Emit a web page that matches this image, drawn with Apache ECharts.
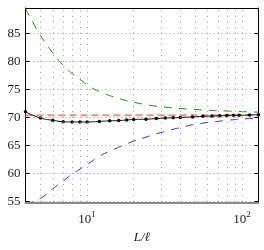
<!DOCTYPE html>
<html>
<head>
<meta charset="utf-8">
<script src="https://cdn.jsdelivr.net/npm/echarts@6/dist/echarts.min.js"></script>
<style>html,body{margin:0;padding:0;background:#fff}#c{width:264px;height:250px}</style>
</head>
<body>
<div id="c"></div>
<script>
const xs     = [4, 5, 6, 7, 8, 9, 10, 12, 14, 16, 18, 20, 24, 28, 32, 36, 40, 48, 56, 64, 72, 80, 88, 96, 112, 128];
const blackY = [71.0, 69.9, 69.5, 69.25, 69.2, 69.2, 69.2, 69.3, 69.4, 69.45, 69.55, 69.65, 69.7, 69.8, 69.9, 69.95, 70.0, 70.1, 70.2, 70.25, 70.3, 70.35, 70.4, 70.4, 70.45, 70.5];
const greenY = [89.4, 84.6, 81.5, 79.3, 77.8, 76.8, 75.8, 74.6, 73.9, 73.4, 73.0, 72.7, 72.3, 72.0, 71.85, 71.7, 71.6, 71.45, 71.35, 71.25, 71.2, 71.15, 71.1, 71.05, 71.0, 70.95];
const blueY  = [54.6, 55.6, 57.3, 58.7, 59.9, 60.8, 61.6, 63.1, 64.0, 64.7, 65.3, 65.8, 66.5, 67.1, 67.5, 67.9, 68.2, 68.7, 69.0, 69.2, 69.35, 69.5, 69.6, 69.7, 69.8, 69.9];
const redY   = xs.map(() => 70.4);
const gridX  = [5, 6, 7, 8, 9, 10, 20, 30, 40, 50, 60, 70, 80, 90, 100];
const xTickLabels = {10: '{b|10}{s|1}', 100: '{b|10}{s|2}'};

const FONT = '"Liberation Serif", "DejaVu Serif", serif';
const pair = ys => xs.map((x, i) => [x, ys[i]]);

const chart = echarts.init(document.getElementById('c'), null, {renderer: 'canvas'});
chart.setOption({
  animation: false,
  grid: {left: 25.5, right: 5.5, top: 8, bottom: 48.3, show: false},
  xAxis: [{
    type: 'log', logBase: 10, min: 4, max: 128, position: 'bottom', offset: 1.5,
    axisLine: {show: true, lineStyle: {color: '#8a8a8a', width: 2}},
    axisTick: {show: false},
    splitLine: {show: false},
    axisLabel: {
      showMinLabel: false, showMaxLabel: false, margin: 7,
      formatter: v => xTickLabels[Math.round(v)] || '',
      rich: {
        b: {fontFamily: FONT, fontSize: 13, color: '#222', lineHeight: 16, verticalAlign: 'bottom'},
        s: {fontFamily: FONT, fontSize: 9, color: '#222', lineHeight: 16, verticalAlign: 'top'}
      }
    },
    name: 'L/\u2113', nameLocation: 'middle', nameGap: 28,
    nameTextStyle: {fontFamily: FONT, fontSize: 13, fontStyle: 'italic', color: '#222'}
  }, {
    type: 'log', logBase: 10, min: 4, max: 128, position: 'top',
    axisLine: {show: true, lineStyle: {color: '#000', width: 1}},
    axisTick: {show: false}, axisLabel: {show: false}, splitLine: {show: false}
  }],
  yAxis: [{
    type: 'value', min: 55, max: 89.5, interval: 5, position: 'left',
    axisLine: {show: true, lineStyle: {color: '#000', width: 1}},
    axisTick: {show: true, inside: true, length: 4, lineStyle: {color: '#000'}},
    axisLabel: {showMaxLabel: false, margin: 5, fontFamily: FONT, fontSize: 13, color: '#222',
      formatter: v => (v % 5 === 0 ? String(v) : '')},
    splitLine: {show: true, lineStyle: {color: '#999', width: 1, type: [1, 3]}}
  }, {
    type: 'value', min: 55, max: 89.5, interval: 5, position: 'right',
    axisLine: {show: true, lineStyle: {color: '#000', width: 1}},
    axisTick: {show: true, inside: true, length: 4, lineStyle: {color: '#000'}},
    axisLabel: {show: false}, splitLine: {show: false}
  }],
  series: [{
    type: 'line', data: [], silent: true,
    markLine: {
      silent: true, symbol: 'none', label: {show: false}, animation: false,
      lineStyle: {color: '#999', width: 1, type: [1, 4.6]},
      data: gridX.map(x => ({xAxis: x}))
    }
  }, {
    type: 'line', data: pair(greenY), showSymbol: false, smooth: true,
    lineStyle: {color: '#1a8a1a', width: 1, type: [8, 7]}
  }, {
    type: 'line', data: pair(blueY), showSymbol: false, smooth: true,
    lineStyle: {color: '#2a2aff', width: 1, type: [8, 7]}
  }, {
    type: 'line', data: pair(redY), showSymbol: false,
    lineStyle: {color: '#f48a8a', width: 2, type: [7, 4]}
  }, {
    type: 'line', data: pair(blackY), smooth: true, symbol: 'circle', symbolSize: 3.5,
    itemStyle: {color: '#111'},
    lineStyle: {color: '#111', width: 1}
  }]
});
</script>
</body>
</html>
